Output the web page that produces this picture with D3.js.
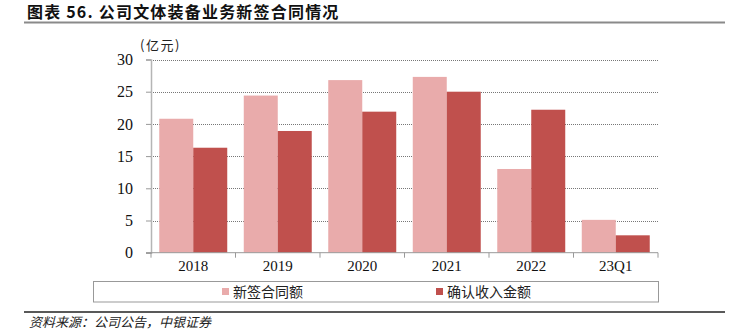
<!DOCTYPE html>
<html>
<head>
<meta charset="utf-8">
<script src="https://cdn.jsdelivr.net/npm/d3@7/dist/d3.min.js"></script>
<style>
  html, body { margin: 0; padding: 0; background: #fff; }
  svg { display: block; }
</style>
</head>
<body>
<svg id="chart" width="734" height="334"></svg>
<script>
// Categories and series values (亿元)
const categories = ["2018", "2019", "2020", "2021", "2022", "23Q1"];
const newContracts = [20.8, 24.4, 26.8, 27.3, 13.0, 5.1];
const recognizedRevenue = [16.3, 18.9, 21.9, 25.0, 22.2, 2.7];
const seriesNames = ["新签合同额", "确认收入金额"];
const seriesColors = ["#E9ABAB", "#C0504D"];
const yTicks = [0, 5, 10, 15, 20, 25, 30];

const svg = d3.select("#chart");
const serif = "'Liberation Serif', 'Times New Roman', serif";
const cjk = "'Noto Sans CJK SC', sans-serif";

// Title and rule
svg.append("text")
  .attr("x", 27).attr("y", 18)
  .attr("font-family", cjk).attr("font-weight", 700).attr("font-size", 16)
  .attr("letter-spacing", 1.2)
  .attr("fill", "#111")
  .text("图表 56. 公司文体装备业务新签合同情况");
svg.append("line")
  .attr("x1", 24).attr("x2", 725).attr("y1", 22.5).attr("y2", 22.5)
  .attr("stroke", "#8a8a8a").attr("stroke-width", 2);

// Plot area
const plotLeft = 151, plotRight = 658, plotTop = 59.5, plotBottom = 252.7;
const x = d3.scaleBand().domain(categories).range([plotLeft, plotRight]).padding(0);
const xs = d3.scaleBand().domain(seriesNames).range([0, x.bandwidth()])
  .paddingInner(0).paddingOuter(0.243);
const y = d3.scaleLinear().domain([0, 30]).range([plotBottom, plotTop]);

// Dotted gridlines
svg.append("g").selectAll("line")
  .data(yTicks.filter(d => d > 0))
  .join("line")
  .attr("x1", plotLeft).attr("x2", plotRight)
  .attr("y1", d => Math.round(y(d)) + 0.5).attr("y2", d => Math.round(y(d)) + 0.5)
  .attr("stroke", "#777").attr("stroke-width", 1).attr("stroke-dasharray", "1,1");

// Bars
const rows = categories.map((c, i) => ({ c, v: [newContracts[i], recognizedRevenue[i]] }));
const groups = svg.append("g").selectAll("g")
  .data(rows).join("g")
  .attr("transform", d => `translate(${x(d.c)},0)`);
groups.selectAll("rect")
  .data(d => d.v.map((v, k) => ({ k, v })))
  .join("rect")
  .attr("x", d => xs(seriesNames[d.k]))
  .attr("width", xs.bandwidth())
  .attr("y", d => y(d.v))
  .attr("height", d => y(0) - y(d.v))
  .attr("fill", d => seriesColors[d.k]);

// Y axis
const yAxis = d3.axisLeft(y).tickValues(yTicks).tickSize(5).tickPadding(13)
  .tickFormat(d3.format("d"));
const gy = svg.append("g").attr("transform", `translate(${plotLeft},0)`).call(yAxis);
gy.select(".domain").attr("stroke", "#b5b5b5").attr("stroke-width", 1.5);
gy.selectAll(".tick line").attr("stroke", "#999");
gy.selectAll(".tick text")
  .attr("font-family", serif).attr("font-size", 16).attr("fill", "#111");

// X axis with ticks on category boundaries
svg.append("line")
  .attr("x1", plotLeft - 5).attr("x2", plotRight).attr("y1", plotBottom).attr("y2", plotBottom)
  .attr("stroke", "#999").attr("stroke-width", 1);
const boundaries = categories.map(c => x(c)).concat([plotRight]);
svg.append("g").selectAll("line")
  .data(boundaries).join("line")
  .attr("x1", d => d).attr("x2", d => d)
  .attr("y1", plotBottom).attr("y2", plotBottom + 5)
  .attr("stroke", "#999");
svg.append("g").selectAll("text")
  .data(categories).join("text")
  .attr("x", d => x(d) + x.bandwidth() / 2)
  .attr("y", 271)
  .attr("text-anchor", "middle")
  .attr("font-family", serif).attr("font-size", 15).attr("fill", "#111")
  .text(d => d);

// Unit label
svg.append("text")
  .attr("x", 140).attr("y", 50)
  .attr("font-family", cjk).attr("font-size", 13).attr("letter-spacing", 1.5)
  .attr("fill", "#222")
  .text("(亿元)");

// Legend
svg.append("rect")
  .attr("x", 93.5).attr("y", 281.5).attr("width", 565).attr("height", 20.5)
  .attr("fill", "none").attr("stroke", "#999").attr("stroke-width", 1);
const legendX = [222, 436];
seriesNames.forEach((name, k) => {
  svg.append("rect")
    .attr("x", legendX[k]).attr("y", 288).attr("width", 7).attr("height", 7)
    .attr("fill", seriesColors[k]);
  svg.append("text")
    .attr("x", legendX[k] + 11).attr("y", 297)
    .attr("font-family", cjk).attr("font-size", 14).attr("fill", "#222")
    .text(name);
});

// Footer rule and source
svg.append("line")
  .attr("x1", 24).attr("x2", 725).attr("y1", 312).attr("y2", 312)
  .attr("stroke", "#222").attr("stroke-width", 1.5);
svg.append("text")
  .attr("x", 29).attr("y", 327)
  .attr("font-family", cjk).attr("font-size", 13).attr("font-style", "italic")
  .attr("fill", "#222")
  .text("资料来源：公司公告，中银证券");
</script>
</body>
</html>
